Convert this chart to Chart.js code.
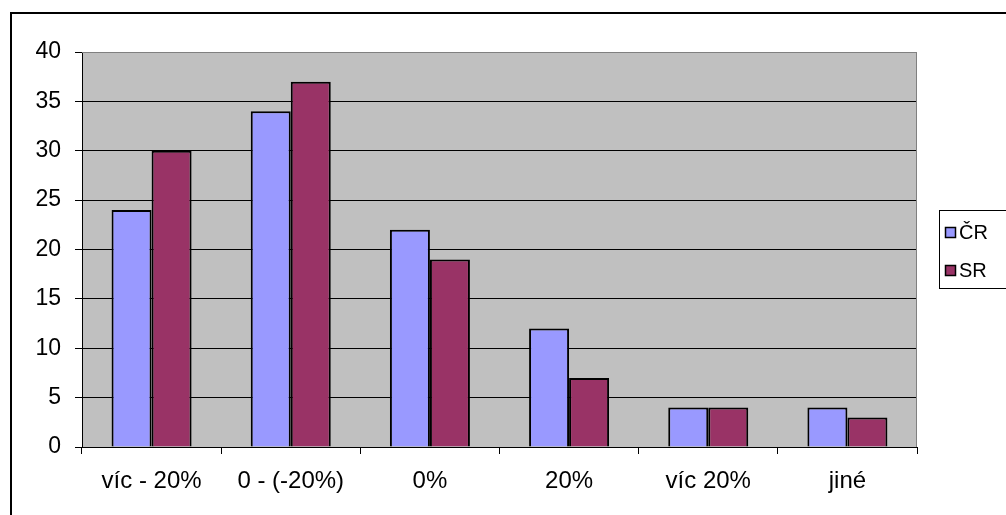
<!DOCTYPE html>
<html>
<head>
<meta charset="utf-8">
<script src="https://cdn.jsdelivr.net/npm/chart.js@4"></script>
<style>
  html, body { margin: 0; padding: 0; background: #fff; }
  #wrap { width: 1006px; height: 515px; position: relative; }
</style>
</head>
<body>
<div id="wrap"><canvas id="c" width="1006" height="515"></canvas></div>
<script>
// Categories and series
const categories = ['víc - 20%', '0 - (-20%)', '0%', '20%', 'víc 20%', 'jiné'];
const seriesCR = [24, 34, 22, 12, 4, 4];
const seriesSR = [30, 37, 19, 7, 4, 3];
const seriesNames = ['ČR', 'SR'];
const yTicks = [0, 5, 10, 15, 20, 25, 30, 35, 40];

const FONT = '"Liberation Sans", Arial, sans-serif';

// Outer frame, gray plot area and its gray top/right border
const framePlugin = {
  id: 'frame',
  beforeDraw(chart) {
    const { ctx, chartArea: a } = chart;
    ctx.save();
    ctx.fillStyle = '#fff';
    ctx.fillRect(0, 0, chart.width, chart.height);
    ctx.strokeStyle = '#000';
    ctx.lineWidth = 2;
    ctx.strokeRect(11, 13, 1100, 600);
    ctx.fillStyle = '#C0C0C0';
    ctx.fillRect(a.left, a.top, a.right - a.left, a.bottom - a.top);
    ctx.restore();
  },
  afterDatasetsDraw(chart) {
    const { ctx, chartArea: a } = chart;
    ctx.save();
    ctx.strokeStyle = '#808080';
    ctx.lineWidth = 1;
    ctx.beginPath();
    ctx.moveTo(a.left, a.top + 0.5);
    ctx.lineTo(a.right - 0.5, a.top + 0.5);
    ctx.lineTo(a.right - 0.5, a.bottom);
    ctx.stroke();
    ctx.restore();
  }
};

// Boxed legend on the right
const boxLegendPlugin = {
  id: 'boxLegend',
  afterDraw(chart) {
    const { ctx } = chart;
    ctx.save();
    ctx.strokeStyle = '#000';
    ctx.lineWidth = 1;
    ctx.strokeRect(939.5, 210.5, 120, 78);
    ctx.font = '20px ' + FONT;
    ctx.textBaseline = 'middle';
    chart.data.datasets.forEach((ds, i) => {
      const cy = 232 + i * 38;
      ctx.fillStyle = ds.backgroundColor;
      ctx.fillRect(945, cy - 5, 11, 11);
      ctx.strokeStyle = '#000';
      ctx.lineWidth = 1.5;
      ctx.strokeRect(945.5, cy - 4.5, 10, 10);
      ctx.fillStyle = '#000';
      ctx.fillText(ds.label, 959, cy + 1);
    });
    ctx.restore();
  }
};

new Chart(document.getElementById('c'), {
  type: 'bar',
  data: {
    labels: categories,
    datasets: [
      { label: seriesNames[0], data: seriesCR, backgroundColor: '#9999FF', borderColor: '#000', borderWidth: 2 },
      { label: seriesNames[1], data: seriesSR, backgroundColor: '#993366', borderColor: '#000', borderWidth: 2 }
    ]
  },
  options: {
    responsive: false,
    animation: false,
    devicePixelRatio: 1,
    categoryPercentage: 0.575,
    barPercentage: 1.0,
    layout: { padding: { top: 52, right: 89, left: 0, bottom: 0 } },
    plugins: { legend: { display: false }, tooltip: { enabled: false } },
    scales: {
      x: {
        afterFit(s) { s.height = 68; },
        grid: { offset: true, drawOnChartArea: false, tickLength: 7, color: '#000', tickColor: '#000' },
        border: { color: '#000', width: 1 },
        ticks: { color: '#000', font: { family: FONT, size: 24 }, padding: 13, maxRotation: 0 }
      },
      y: {
        min: 0, max: 40,
        afterFit(s) { s.width = 82; },
        afterBuildTicks(s) { s.ticks = yTicks.map(v => ({ value: v })); },
        grid: {
          tickLength: 7,
          color: (c) => (c.tick && c.tick.value === 40 ? '#808080' : '#000'),
          tickColor: '#000'
        },
        border: { color: '#000', width: 1 },
        ticks: { color: '#000', font: { family: FONT, size: 23 }, padding: 14 }
      }
    }
  },
  plugins: [framePlugin, boxLegendPlugin]
});
</script>
</body>
</html>
